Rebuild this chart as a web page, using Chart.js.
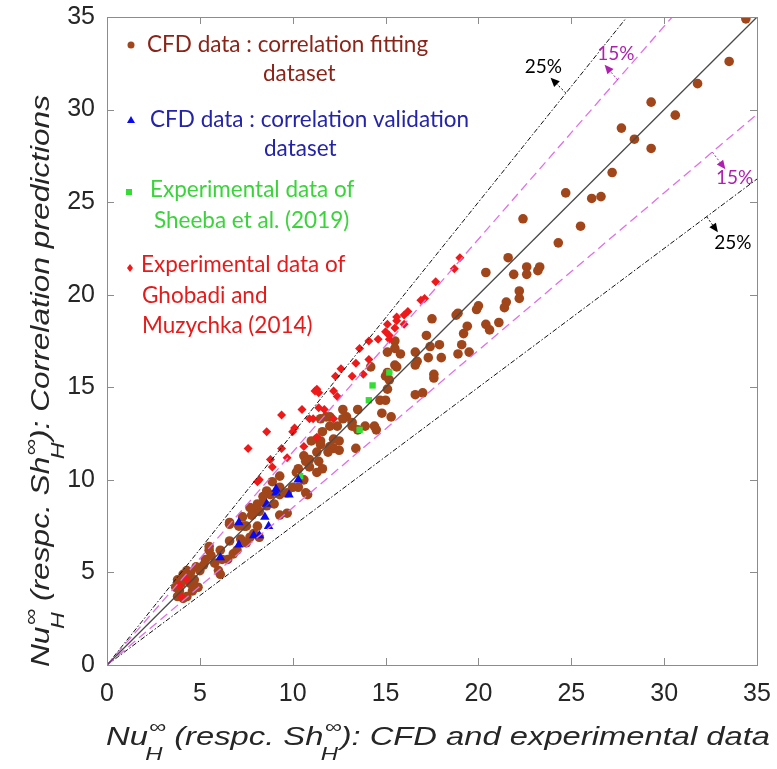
<!DOCTYPE html>
<html>
<head>
<meta charset="utf-8">
<script src="https://cdn.jsdelivr.net/npm/chart.js@4.4.1/dist/chart.umd.min.js"></script>
<style>
  html, body { margin: 0; padding: 0; background: #fff; }
  #wrap { width: 777px; height: 769px; }
</style>
</head>
<body>
<div id="wrap"><canvas id="chart" width="777" height="769"></canvas></div>
<script>
// ---- data: [CFD/experimental, correlation prediction] ----
const fittingData = [
  [34.4,34.9],[33.5,32.6],[31.8,31.4],[29.3,30.4],[30.6,29.7],[27.7,29.0],[28.4,28.4],[29.3,27.9],
  [27.2,26.6],[24.7,25.5],[26.1,25.2],[26.6,25.3],[22.4,24.1],[25.5,23.7],[24.3,22.8],[21.6,22.0],
  [20.4,21.2],[21.9,21.1],[22.6,21.5],[22.6,21.1],[23.3,21.5],[23.2,21.3],[20.0,19.4],[19.9,19.2],
  [21.5,19.6],[21.4,19.3],[22.2,20.2],[22.2,19.8],[18.9,19.0],[18.8,18.9],[19.4,18.3],[19.2,17.9],
  [20.4,18.4],[20.6,18.1],[21.1,18.5],[17.5,18.7],
  [17.2,17.8],[15.5,17.5],[15.5,17.1],[17.4,17.2],[17.9,17.3],[19.1,17.3],[18.9,16.8],[19.5,16.9],
  [15.8,16.8],[16.6,16.9],[17.3,16.6],[18.0,16.6],[16.7,16.4],[16.6,16.2],[15.5,16.2],[15.6,16.1],
  [17.6,15.7],[17.6,15.5],[15.1,16.9],[14.2,16.1],[15.0,15.6],[15.1,15.8],[15.2,15.4],[15.1,14.9],
  [16.6,14.6],[17.0,14.7],[14.7,14.3],[14.8,13.6],[15.3,13.4],[15.0,14.3],[14.4,12.9],[14.5,12.7],
  [13.9,12.9],[13.5,12.7],[12.9,13.4],[12.7,13.8],[12.0,13.4],[12.4,12.9],[13.5,13.8],[12.7,13.3],
  [11.5,13.3],[11.8,13.4],[12.0,12.9],[13.2,12.9],[13.2,13.1],[11.6,12.6],[11.0,12.1],[11.5,12.1],
  [12.2,12.2],[12.5,12.1],[12.5,11.6],[13.4,11.7],[12.2,11.7],[11.3,12.2],[11.5,11.9],
  [10.6,11.3],[10.9,11.1],[10.7,11.0],[11.3,11.5],[11.4,11.0],[12.0,11.8],[11.9,11.5],[11.6,10.6],
  [11.3,10.4],[10.9,10.7],[10.3,10.6],[10.2,10.4],[10.6,10.0],[10.3,9.6],[10.0,9.6],[9.7,9.3],
  [9.3,9.2],[10.8,9.2],[10.7,9.3],[8.4,8.8],[8.6,8.6],[9.3,10.2],[8.9,9.9],[9.3,9.6],[8.6,9.4],
  [8.8,9.2],[8.4,9.1],[8.0,8.4],[8.2,8.3],[7.8,8.1],[7.3,8.0],[7.5,7.5],[7.1,7.5],[6.6,7.6],
  [8.1,7.5],[7.9,7.1],[8.2,6.9],[7.7,6.9],[7.2,6.8],[7.5,6.6],[6.6,6.7],[6.1,6.2],[6.2,5.7],
  [5.5,6.2],[6.5,5.7],[6.8,6.0],[7.0,6.2],[5.5,6.4],[5.3,5.7],[5.2,5.4],[5.8,5.5],[4.8,5.3],
  [5.0,5.1],[6.0,5.1],[6.1,4.9],[4.3,5.1],[4.5,5.0],[4.1,4.9],[4.3,4.8],[3.8,4.6],[4.0,4.4],
  [4.5,4.4],[4.9,4.2],[3.7,4.2],[3.9,4.0],[3.8,3.7],[4.3,3.7],[4.1,3.6],[4.6,4.0],[9.0,8.7],
  [8.1,8.7],[7.7,8.5],[9.3,8.1],[9.7,8.2],[7.8,8.1],[6.6,7.7],[7.4,7.5],[5.6,5.9],[4.7,4.6]
];
const validationData = [
  [10.3,10.0],[9.8,9.2],[9.1,9.5],[8.6,8.7],[9.1,9.3],[8.5,8.0],[8.7,7.5],[8.2,7.0],
  [7.9,7.0],[7.1,6.5],[7.1,7.7],[6.1,5.8]
];
const sheebaData = [
  [15.2,15.8],[14.3,15.1],[14.1,14.3],[13.6,12.7],[10.4,10.2]
];
const ghobadiData = [
  [19.0,22.0],[18.7,21.4],[17.7,20.7],[16.9,19.7],[17.1,19.8],[16.2,19.1],[16.0,18.9],[15.6,18.8],
  [16.0,18.4],[15.5,18.2],[15.2,17.8],[15.6,18.6],[15.1,18.4],[15.0,18.0],[14.6,17.6],[15.2,17.6],
  [14.1,17.5],[13.6,17.1],[14.1,16.5],[13.4,16.3],[12.6,16.0],[13.2,15.6],[12.3,15.6],[13.8,15.7],
  [11.3,14.9],[11.2,14.8],[11.4,14.7],[12.2,14.8],[12.4,14.5],[10.5,13.8],[11.4,13.9],[11.7,13.8],
  [9.4,13.5],[10.9,13.3],[11.1,13.3],[12.2,13.3],[8.6,12.6],[10.0,12.6],[10.1,12.8],[11.3,12.3],
  [7.6,11.7],[9.4,11.7],[10.6,11.8],[8.8,11.1],[9.7,11.2],[8.9,10.7],[8.2,10.0],[8.1,9.9],
  [4.3,4.6],[3.9,4.3],[4.0,3.7]
];

const axisTicks = [0, 5, 10, 15, 20, 25, 30, 35];
const lineRange = [0, 35];
const bandSlopes = { perfect: 1, upper15: 1.15, lower15: 0.85, upper25: 1.25, lower25: 0.75 };

const legendLabels = [
  ['CFD data : correlation fitting', 'dataset'],
  ['CFD data : correlation validation', 'dataset'],
  ['Experimental data of', 'Sheeba et al. (2019)'],
  ['Experimental data of', 'Ghobadi and', 'Muzychka (2014)']
];

// band labels: [text, label x, label y, arrow from x, from y, to x, to y]
const bandNotes = [
  ['25%', 23.5, 32.3, 24.7, 30.9, 24.0, 31.6, '#000'],
  ['15%', 27.4, 33.0, 27.5, 31.6, 26.9, 32.3, '#b020b0'],
  ['15%', 33.8, 26.3, 32.6, 27.7, 33.2, 26.9, '#b020b0'],
  ['25%', 33.7, 22.8, 32.3, 24.2, 32.8, 23.5, '#000']
];

const toPts = arr => arr.map(p => ({ x: p[0], y: p[1] }));
const linePts = slope => lineRange.map(v => ({ x: v, y: v * slope }));

const BROWN = '#a0461a', BLUE = '#0a0af0', GREEN = '#33dd33', RED = '#ee1a1a';
const MAGENTA = '#e070e8';

// frame, inside ticks, titles, legend, notes
const decorPlugin = {
  id: 'decor',
  afterDatasetsDraw(chart) {
    const { ctx, chartArea: a, scales: { x, y } } = chart;
    ctx.save();
    ctx.strokeStyle = '#8c8c8c';
    ctx.lineWidth = 1;
    ctx.strokeRect(a.left + 0.5, a.top + 0.5, a.right - a.left, a.bottom - a.top);
    ctx.beginPath();
    axisTicks.forEach(t => {
      const px = Math.round(x.getPixelForValue(t)) + 0.5;
      const py = Math.round(y.getPixelForValue(t)) + 0.5;
      ctx.moveTo(px, a.bottom); ctx.lineTo(px, a.bottom - 7);
      ctx.moveTo(px, a.top); ctx.lineTo(px, a.top + 7);
      ctx.moveTo(a.left, py); ctx.lineTo(a.left + 7, py);
      ctx.moveTo(a.right, py); ctx.lineTo(a.right - 7, py);
    });
    ctx.stroke();

    // band notes with arrows
    ctx.font = '19px Lato';
    ctx.textAlign = 'center';
    ctx.textBaseline = 'middle';
    bandNotes.forEach(n => {
      const [txt, lx, ly, fx, fy, tx, ty, col] = n;
      ctx.fillStyle = col;
      ctx.strokeStyle = col;
      ctx.fillText(txt, x.getPixelForValue(lx), y.getPixelForValue(ly));
      const x0 = x.getPixelForValue(fx), y0 = y.getPixelForValue(fy);
      const x1 = x.getPixelForValue(tx), y1 = y.getPixelForValue(ty);
      const ang = Math.atan2(y1 - y0, x1 - x0);
      ctx.lineWidth = 1;
      ctx.setLineDash([2, 2]);
      ctx.beginPath(); ctx.moveTo(x0, y0); ctx.lineTo(x1, y1); ctx.stroke();
      ctx.setLineDash([]);
      ctx.beginPath();
      ctx.moveTo(x1 + 3 * Math.cos(ang), y1 + 3 * Math.sin(ang));
      ctx.lineTo(x1 - 6 * Math.cos(ang) + 4 * Math.sin(ang), y1 - 6 * Math.sin(ang) - 4 * Math.cos(ang));
      ctx.lineTo(x1 - 6 * Math.cos(ang) - 4 * Math.sin(ang), y1 - 6 * Math.sin(ang) + 4 * Math.cos(ang));
      ctx.closePath(); ctx.fill();
    });

    // legend drawn inside the axes
    ctx.textAlign = 'left';
    ctx.font = '22.5px Lato';
    const legendRows = [
      { col: '#8b2418', mark: 'circle', mc: BROWN, mx: 131, my: 45, pos: [[147, 45], [263, 74]] },
      { col: '#2424a8', mark: 'triangle', mc: BLUE, mx: 131, my: 120, pos: [[150, 120], [264, 149]] },
      { col: '#3ad43a', mark: 'square', mc: GREEN, mx: 129, my: 192, pos: [[150, 190], [154, 221]] },
      { col: '#e41b1b', mark: 'diamond', mc: RED, mx: 130, my: 268, pos: [[141, 265], [142, 296], [142, 326]] }
    ];
    legendRows.forEach((r, i) => {
      ctx.fillStyle = r.mc;
      ctx.beginPath();
      if (r.mark === 'circle') ctx.arc(r.mx, r.my, 3.5, 0, Math.PI * 2);
      if (r.mark === 'triangle') { ctx.moveTo(r.mx, r.my - 4); ctx.lineTo(r.mx + 4, r.my + 3); ctx.lineTo(r.mx - 4, r.my + 3); }
      if (r.mark === 'square') ctx.rect(r.mx - 3, r.my - 3, 6, 6);
      if (r.mark === 'diamond') { ctx.moveTo(r.mx, r.my - 4); ctx.lineTo(r.mx + 3, r.my); ctx.lineTo(r.mx, r.my + 4); ctx.lineTo(r.mx - 3, r.my); }
      ctx.fill();
      ctx.fillStyle = r.col;
      legendLabels[i].forEach((s, j) => ctx.fillText(s, r.pos[j][0], r.pos[j][1]));
    });

    // axis titles with stacked sub/superscripts
    const parts = [
      { t: 'Nu' }, { sup: '\u221E', sub: 'H' }, { t: ' (respc. Sh' }, { sup: '\u221E', sub: 'H' },
    ];
    const drawTitle = (tail, target) => {
      const seq = parts.concat([{ t: tail }]);
      const big = 'italic 26px "Liberation Sans"', small = 'italic 19px "Liberation Sans"';
      let w = 0;
      seq.forEach(p => {
        if (p.t) { ctx.font = big; w += ctx.measureText(p.t).width; }
        else { ctx.font = small; w += Math.max(ctx.measureText(p.sup).width, ctx.measureText(p.sub).width); }
      });
      ctx.scale(target / w, 1);
      let cx = 0;
      ctx.fillStyle = '#262626';
      ctx.textBaseline = 'alphabetic';
      seq.forEach(p => {
        if (p.t) { ctx.font = big; ctx.fillText(p.t, cx, 0); cx += ctx.measureText(p.t).width; }
        else {
          ctx.font = small;
          ctx.fillText(p.sup, cx + 1, -12);
          ctx.fillText(p.sub, cx - 2, 15);
          cx += Math.max(ctx.measureText(p.sup).width, ctx.measureText(p.sub).width);
        }
      });
    };
    ctx.save();
    ctx.translate(106, 745);
    drawTitle('): CFD and experimental data', 664);
    ctx.restore();
    ctx.save();
    ctx.translate(49, 667);
    ctx.rotate(-Math.PI / 2);
    drawTitle('): Correlation predictions', 572);
    ctx.restore();
    ctx.restore();
  }
};

const lineDs = (slope, color, dash, width, order) => ({
  type: 'line', data: linePts(slope), borderColor: color, borderDash: dash,
  borderWidth: width, pointRadius: 0, fill: false, order
});

new Chart(document.getElementById('chart'), {
  type: 'scatter',
  data: {
    datasets: [
      lineDs(bandSlopes.perfect, '#4a4a4a', [], 1.3, 0),
      lineDs(bandSlopes.upper15, MAGENTA, [9, 5], 1.3, 0),
      lineDs(bandSlopes.lower15, MAGENTA, [9, 5], 1.3, 0),
      lineDs(bandSlopes.upper25, '#111', [5, 2, 1.5, 2], 1, 0),
      lineDs(bandSlopes.lower25, '#111', [5, 2, 1.5, 2], 1, 0),
      { label: 'Validation', data: toPts(validationData), pointStyle: 'triangle', pointRadius: 5.5,
        backgroundColor: BLUE, borderColor: BLUE, borderWidth: 0, order: 1 },
      { label: 'Sheeba', data: toPts(sheebaData), pointStyle: 'rect', pointRadius: 4.5,
        backgroundColor: GREEN, borderColor: GREEN, borderWidth: 0, order: 2 },
      { label: 'Ghobadi', data: toPts(ghobadiData), pointStyle: 'rectRot', pointRadius: 4.5,
        backgroundColor: RED, borderColor: RED, borderWidth: 0, order: 3 },
      { label: 'Fitting', data: toPts(fittingData), pointStyle: 'circle', pointRadius: 4.8,
        backgroundColor: BROWN, borderColor: BROWN, borderWidth: 0, order: 4 }
    ]
  },
  options: {
    responsive: false,
    animation: false,
    devicePixelRatio: 1,
    layout: { padding: { left: 0, right: 20, top: 17, bottom: 0 } },
    plugins: { legend: { display: false }, tooltip: { enabled: false } },
    scales: {
      x: {
        type: 'linear', min: 0, max: 35,
        afterBuildTicks: s => { s.ticks = axisTicks.map(v => ({ value: v })); },
        afterFit: s => { s.height = 104; s.paddingLeft = 0; s.paddingRight = 0; },
        grid: { display: false, drawTicks: false },
        border: { display: false },
        ticks: { color: '#262626', padding: 14, maxRotation: 0, font: { family: 'Liberation Sans', size: 25 } }
      },
      y: {
        type: 'linear', min: 0, max: 35,
        afterBuildTicks: s => { s.ticks = axisTicks.map(v => ({ value: v })); },
        afterFit: s => { s.width = 107; s.paddingTop = 0; s.paddingBottom = 0; },
        grid: { display: false, drawTicks: false },
        border: { display: false },
        ticks: { color: '#262626', padding: 12, font: { family: 'Liberation Sans', size: 25 } }
      }
    }
  },
  plugins: [decorPlugin]
});
</script>
</body>
</html>
